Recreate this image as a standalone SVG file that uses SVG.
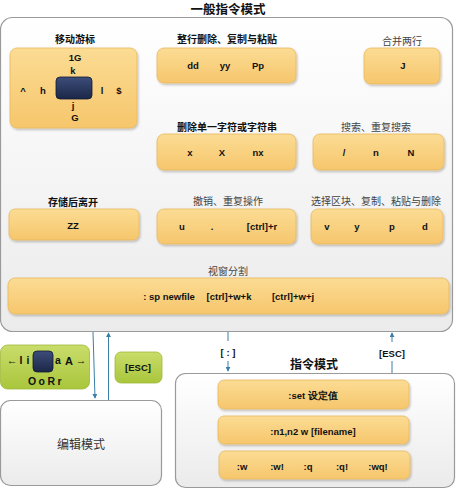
<svg xmlns="http://www.w3.org/2000/svg" width="456" height="490" viewBox="0 0 456 490">
<defs>
<linearGradient id="gMain" x1="0" y1="0" x2="0" y2="1"><stop offset="0" stop-color="#ffffff"/><stop offset="1" stop-color="#ebebeb"/></linearGradient>
<linearGradient id="gY" x1="0" y1="0" x2="0" y2="1"><stop offset="0" stop-color="#fbdc94"/><stop offset="1" stop-color="#f6c66c"/></linearGradient>
<linearGradient id="gG" x1="0" y1="0" x2="0" y2="1"><stop offset="0" stop-color="#c9dc6a"/><stop offset="1" stop-color="#a9c63c"/></linearGradient>
<linearGradient id="gD" x1="0" y1="0" x2="0" y2="1"><stop offset="0" stop-color="#3d4d7a"/><stop offset="1" stop-color="#1c2747"/></linearGradient>
<filter id="sh" x="-10%" y="-10%" width="120%" height="130%"><feDropShadow dx="1" dy="1.5" stdDeviation="1" flood-color="#000" flood-opacity="0.25"/></filter>
<marker id="arr" viewBox="0 0 6 6" refX="5" refY="3" markerWidth="5" markerHeight="5" orient="auto"><path d="M0,0 L6,3 L0,6 z" fill="#3a7fa8"/></marker>
</defs>
<style>
.main{fill:url(#gMain);stroke:#9a9a9a;stroke-width:1.2}
.y{fill:url(#gY);stroke:#e8b95e;stroke-width:0.8;filter:url(#sh)}
.g{fill:url(#gG);stroke:#9fb93a;stroke-width:0.8}
.d{fill:url(#gD);stroke:#121a33;stroke-width:0.8}
.t{font-family:"Liberation Sans",Arial,sans-serif;font-weight:bold;font-size:9.5px;fill:#111;text-anchor:middle}
.cb{font-family:"Noto Sans CJK SC","Liberation Sans",sans-serif;font-weight:bold;font-size:10px;fill:#111;text-anchor:middle}
.cs{font-family:"Noto Sans CJK SC","Liberation Serif",serif;font-weight:normal;font-size:10px;fill:#444;text-anchor:middle}
.ttl{font-family:"Noto Sans CJK SC","Liberation Sans",sans-serif;font-weight:bold;font-size:12.5px;fill:#111;text-anchor:middle}
.conn{stroke:#3a7fa8;stroke-width:1;fill:none}
</style>

<g id="general-mode">
<text class="ttl" x="228" y="14">一般指令模式</text>
<rect class="main" x="0.5" y="17.5" width="452" height="314" rx="12"/>
</g>

<g id="move-cursor">
<text class="cb" x="75" y="43">移动游标</text>
<rect class="y" x="10" y="48" width="127" height="80" rx="7"/>
<rect class="d" x="56" y="77" width="36" height="22" rx="4"/>
<text class="t" x="75" y="61">1G</text>
<text class="t" x="73" y="74">k</text>
<text class="t" x="23" y="94">^</text>
<text class="t" x="43" y="94">h</text>
<text class="t" x="102" y="94">l</text>
<text class="t" x="119" y="94">$</text>
<text class="t" x="73" y="109">j</text>
<text class="t" x="75" y="121">G</text>
</g>

<g id="line-ops">
<text class="cb" x="227" y="43">整行删除、复制与粘贴</text>
<rect class="y" x="157" y="48" width="139" height="35" rx="7"/>
<text class="t" x="193" y="69">dd</text>
<text class="t" x="225" y="69">yy</text>
<text class="t" x="258" y="69">Pp</text>
</g>

<g id="join-lines">
<text class="cs" x="402" y="45">合并两行</text>
<rect class="y" x="364" y="48" width="76" height="36" rx="7"/>
<text class="t" x="403" y="69">J</text>
</g>

<g id="delete-char">
<text class="cb" x="227" y="131">删除单一字符或字符串</text>
<rect class="y" x="157" y="134" width="139" height="36" rx="7"/>
<text class="t" x="190" y="156">x</text>
<text class="t" x="222" y="156">X</text>
<text class="t" x="258" y="156">nx</text>
</g>

<g id="search">
<text class="cs" x="376" y="131">搜索、重复搜索</text>
<rect class="y" x="313" y="134" width="131" height="36" rx="7"/>
<text class="t" x="344" y="156">/</text>
<text class="t" x="376" y="156">n</text>
<text class="t" x="411" y="156">N</text>
</g>

<g id="save-exit">
<text class="cb" x="73" y="206">存储后离开</text>
<rect class="y" x="9" y="209" width="130" height="31" rx="6"/>
<text class="t" x="73" y="229">ZZ</text>
</g>

<g id="undo-redo">
<text class="cs" x="228" y="205">撤销、重复操作</text>
<rect class="y" x="157" y="209" width="139" height="35" rx="7"/>
<text class="t" x="182" y="230">u</text>
<text class="t" x="212" y="230">.</text>
<text class="t" x="262" y="230">[ctrl]+r</text>
</g>

<g id="visual-block">
<text class="cs" x="376" y="205">选择区块、复制、粘贴与删除</text>
<rect class="y" x="311" y="209" width="132" height="35" rx="7"/>
<text class="t" x="327" y="230">v</text>
<text class="t" x="357" y="230">y</text>
<text class="t" x="392" y="230">p</text>
<text class="t" x="425" y="230">d</text>
</g>

<g id="window-split">
<text class="cs" x="228" y="275">视窗分割</text>
<rect class="y" x="8" y="278" width="441" height="36" rx="7"/>
<text class="t" x="169" y="300">: sp newfile</text>
<text class="t" x="229" y="300">[ctrl]+w+k</text>
<text class="t" x="293" y="300">[ctrl]+w+j</text>
</g>

<g id="insert-keys">
<rect class="g" x="0.5" y="345" width="89" height="44" rx="7"/>
<rect class="d" x="33" y="351" width="20" height="21" rx="4"/>
<text class="t" x="12" y="364" style="font-weight:normal;font-size:10.5px">←</text>
<text class="t" x="21" y="364" style="font-size:10.5px">I</text>
<text class="t" x="28" y="364" style="font-size:10.5px">i</text>
<text class="t" x="58" y="364" style="font-size:10.5px">a</text>
<text class="t" x="69" y="365" style="font-size:11px">A</text>
<text class="t" x="81" y="364" style="font-weight:normal;font-size:10.5px">→</text>
<text class="t" x="46" y="385" style="letter-spacing:2.5px;font-size:10.5px">OoRr</text>
</g>

<g id="esc-edit">
<rect class="g" x="115" y="352" width="47" height="31" rx="6"/>
<text class="t" x="138" y="371">[ESC]</text>
</g>

<g id="edit-mode">
<rect class="main" x="0.5" y="400.5" width="161" height="85" rx="10"/>
<text class="cb" x="81" y="449" style="font-weight:normal;fill:#333;font-size:12px">编辑模式</text>
</g>

<g id="command-mode">
<text class="ttl" x="314" y="369" style="font-size:12px">指令模式</text>
<rect class="main" x="175.5" y="373.5" width="279" height="114" rx="10"/>
<rect class="y" x="218" y="380" width="191" height="29" rx="6"/>
<text class="t" x="313" y="399">:set 设定值</text>
<rect class="y" x="218" y="416" width="191" height="28" rx="6"/>
<text class="t" x="313" y="435">:n1,n2 w [filename]</text>
<rect class="y" x="219" y="451" width="191" height="28" rx="6"/>
<text class="t" x="242" y="470">:w</text>
<text class="t" x="277" y="470">:w!</text>
<text class="t" x="308" y="470">:q</text>
<text class="t" x="342" y="470">:q!</text>
<text class="t" x="378" y="470">:wq!</text>
</g>

<g id="connectors">
<line class="conn" x1="93" y1="332" x2="95" y2="398" marker-end="url(#arr)"/>
<line class="conn" x1="108.5" y1="400" x2="108.5" y2="333" marker-end="url(#arr)"/>
<line class="conn" x1="228" y1="332" x2="228" y2="341"/>
<text class="t" x="228" y="356">[ : ]</text>
<line class="conn" x1="228" y1="361" x2="228" y2="371" marker-end="url(#arr)"/>
<line class="conn" x1="392" y1="342" x2="392" y2="333" marker-end="url(#arr)"/>
<text class="t" x="392" y="357">[ESC]</text>
<line class="conn" x1="392" y1="361" x2="392" y2="373"/>
</g>
</svg>
